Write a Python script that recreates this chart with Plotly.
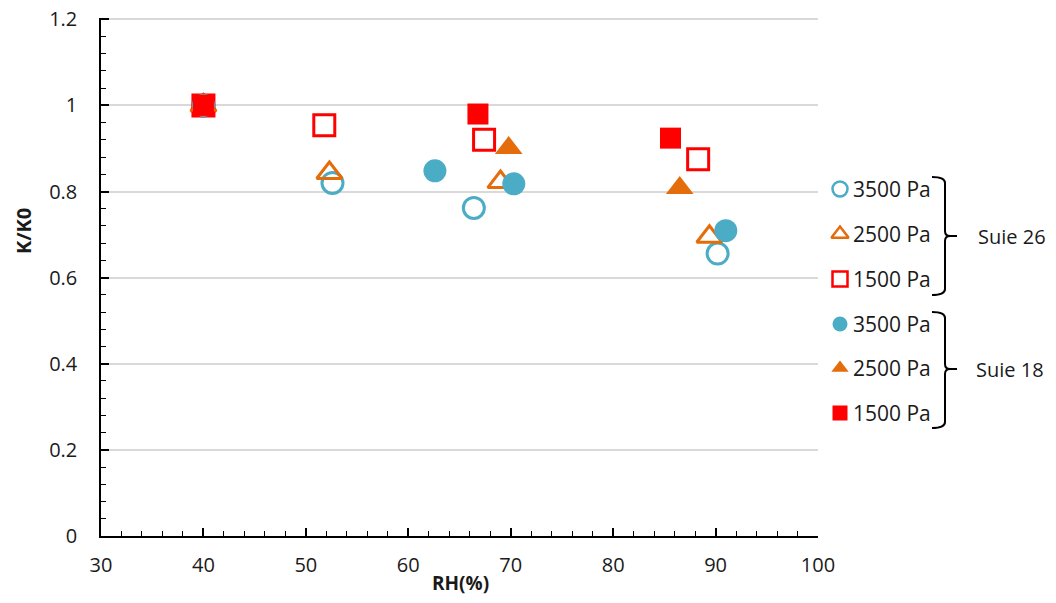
import plotly.graph_objects as go

# RH (%) and K/K0
# Suie 26 (open markers)
rh_26_3500 = [40.0, 52.6, 66.4, 90.2]
k_26_3500 = [1.0, 0.820, 0.762, 0.656]
rh_26_2500 = [40.0, 52.3, 69.0, 89.4]
k_26_2500 = [1.0, 0.843, 0.822, 0.695]
rh_26_1500 = [40.0, 51.8, 67.4, 88.3]
k_26_1500 = [1.0, 0.954, 0.920, 0.875]

# Suie 18 (filled markers)
rh_18_3500 = [40.0, 62.6, 70.3, 91.0]
k_18_3500 = [1.0, 0.848, 0.818, 0.709]
rh_18_2500 = [40.0, 69.8, 86.5]
k_18_2500 = [1.0, 0.901, 0.808]
rh_18_1500 = [40.0, 66.8, 85.6]
k_18_1500 = [1.0, 0.980, 0.924]

labels = ["3500 Pa", "2500 Pa", "1500 Pa"]
groups = ["Suie 26", "Suie 18"]
y_ticks = [0, 0.2, 0.4, 0.6, 0.8, 1, 1.2]
y_ticktext = ["0", "0.2", "0.4", "0.6", "0.8", "1", "1.2"]

BLUE = "#4BACC6"
ORANGE = "#E46C0A"
RED = "#FF0000"
FONT = "Open Sans"
TXT = "#1a1a1a"
FS = 21
W, H = 1056, 603
OFF = 8  # default body margin of the html page

series = [
    (rh_26_3500, k_26_3500, "circle-open", BLUE, 21),
    (rh_26_2500, k_26_2500, "triangle-up-open", ORANGE, 22),
    (rh_26_1500, k_26_1500, "square-open", RED, 21),
    (rh_18_3500, k_18_3500, "circle", BLUE, 23),
    (rh_18_2500, k_18_2500, "triangle-up", ORANGE, 24),
    (rh_18_1500, k_18_1500, "square", RED, 21),
]

# figure fits inside the window with the page margins around it
fw, fh = W - 2 * OFF, H - 2 * OFF
left, top_m = 101 - OFF, 18 - OFF
bot_m = fh - (536 - OFF)
right = 0
plot_w, plot_h = fw - left - right, fh - top_m - bot_m
xdom = (818 - 101) / plot_w


def paper(px, py):
    # page pixel -> paper coordinates
    return (px - OFF - left) / plot_w, 1 - (py - OFF - top_m) / plot_h


fig = go.Figure()
for x, y, sym, col, sz in series:
    fig.add_trace(go.Scatter(
        x=x, y=y, mode="markers", showlegend=False,
        marker=dict(symbol=sym, size=sz, color=col,
                    line=dict(width=3 if "open" in sym else 0, color=col)),
    ))

# hand made legend on a second pair of axes (page pixel units)
leg_y = [189, 234, 279, 324, 368, 413]
annotations = []
for i, (x, y, sym, col, sz) in enumerate(series):
    fig.add_trace(go.Scatter(
        x=[840], y=[leg_y[i]], xaxis="x2", yaxis="y2", mode="markers",
        showlegend=False,
        marker=dict(symbol=sym, size=15, color=col,
                    line=dict(width=2.5 if "open" in sym else 0, color=col)),
    ))
    annotations.append(dict(x=851, y=leg_y[i], xref="x2", yref="y2",
                            xanchor="left", yanchor="middle", showarrow=False,
                            text=labels[i % 3],
                            font=dict(family=FONT, size=FS, color=TXT)))

shapes = []
for top, mid, bot in [(177, 236, 295), (312, 369, 428)]:
    path = (f"M 932 {top} Q 945 {top} 945 {top+6} L 945 {mid-5} "
            f"Q 945 {mid} 950 {mid} L 957 {mid} M 950 {mid} "
            f"Q 945 {mid} 945 {mid+5} L 945 {bot-6} Q 945 {bot} 932 {bot}")
    shapes.append(dict(type="path", path=path, xref="x2", yref="y2",
                       line=dict(color="black", width=2)))

annotations += [
    dict(x=1012, y=236, xref="x2", yref="y2", text=groups[0], showarrow=False,
         font=dict(family=FONT, size=20, color=TXT)),
    dict(x=1046, y=369, xref="x2", yref="y2", text=groups[1], showarrow=False,
         xanchor="right", font=dict(family=FONT, size=20, color=TXT)),
]

# axis titles
ax, ay = paper(24, 231)
annotations.append(dict(x=ax, y=ay, xref="paper", yref="paper", text="<b>K/K0</b>",
                        textangle=-90, showarrow=False,
                        xanchor="center", yanchor="middle",
                        font=dict(family=FONT, size=20, color=TXT)))
ax, ay = paper(460, 583)
annotations.append(dict(x=ax, y=ay, xref="paper", yref="paper", text="<b>RH(%)</b>",
                        showarrow=False, xanchor="center", yanchor="middle",
                        font=dict(family=FONT, size=19, color=TXT)))

fig.update_layout(
    width=fw, height=fh,
    margin=dict(l=left, r=right, t=top_m, b=bot_m, autoexpand=False),
    paper_bgcolor="white", plot_bgcolor="white",
    font=dict(family=FONT, size=FS, color=TXT),
    shapes=shapes, annotations=annotations,
    xaxis=dict(
        domain=[0, xdom], range=[30, 100], dtick=10, tick0=30,
        showgrid=False, zeroline=False, automargin=False,
        showline=True, linecolor="black", linewidth=1.5,
        ticks="inside", ticklen=8, tickwidth=1.5, tickcolor="black",
        minor=dict(ticks="inside", ticklen=5, dtick=2, tickcolor="black", tickwidth=1.2),
        ticklabelstandoff=10, ticklabeloverflow="allow",
        tickfont=dict(size=20),
    ),
    yaxis=dict(
        range=[0, 1.203], tickmode="array", tickvals=y_ticks, ticktext=y_ticktext,
        showgrid=True, gridcolor="#d9d9d9", gridwidth=1.5, zeroline=False,
        automargin=False,
        showline=True, linecolor="black", linewidth=1.5,
        ticks="inside", ticklen=8, tickwidth=1.5, tickcolor="black",
        minor=dict(ticks="inside", ticklen=5, tickmode="linear", tick0=0, dtick=0.04,
                   tickcolor="black", tickwidth=1.2, showgrid=False),
        ticklabelstandoff=18, ticklabeloverflow="allow",
        tickfont=dict(size=20),
    ),
    xaxis2=dict(domain=[xdom, 1], range=[818, W - OFF], visible=False, fixedrange=True),
    yaxis2=dict(anchor="x2", domain=[0, 1], range=[536, 18],
                visible=False, fixedrange=True),
)

fig.write_html("out.html")
